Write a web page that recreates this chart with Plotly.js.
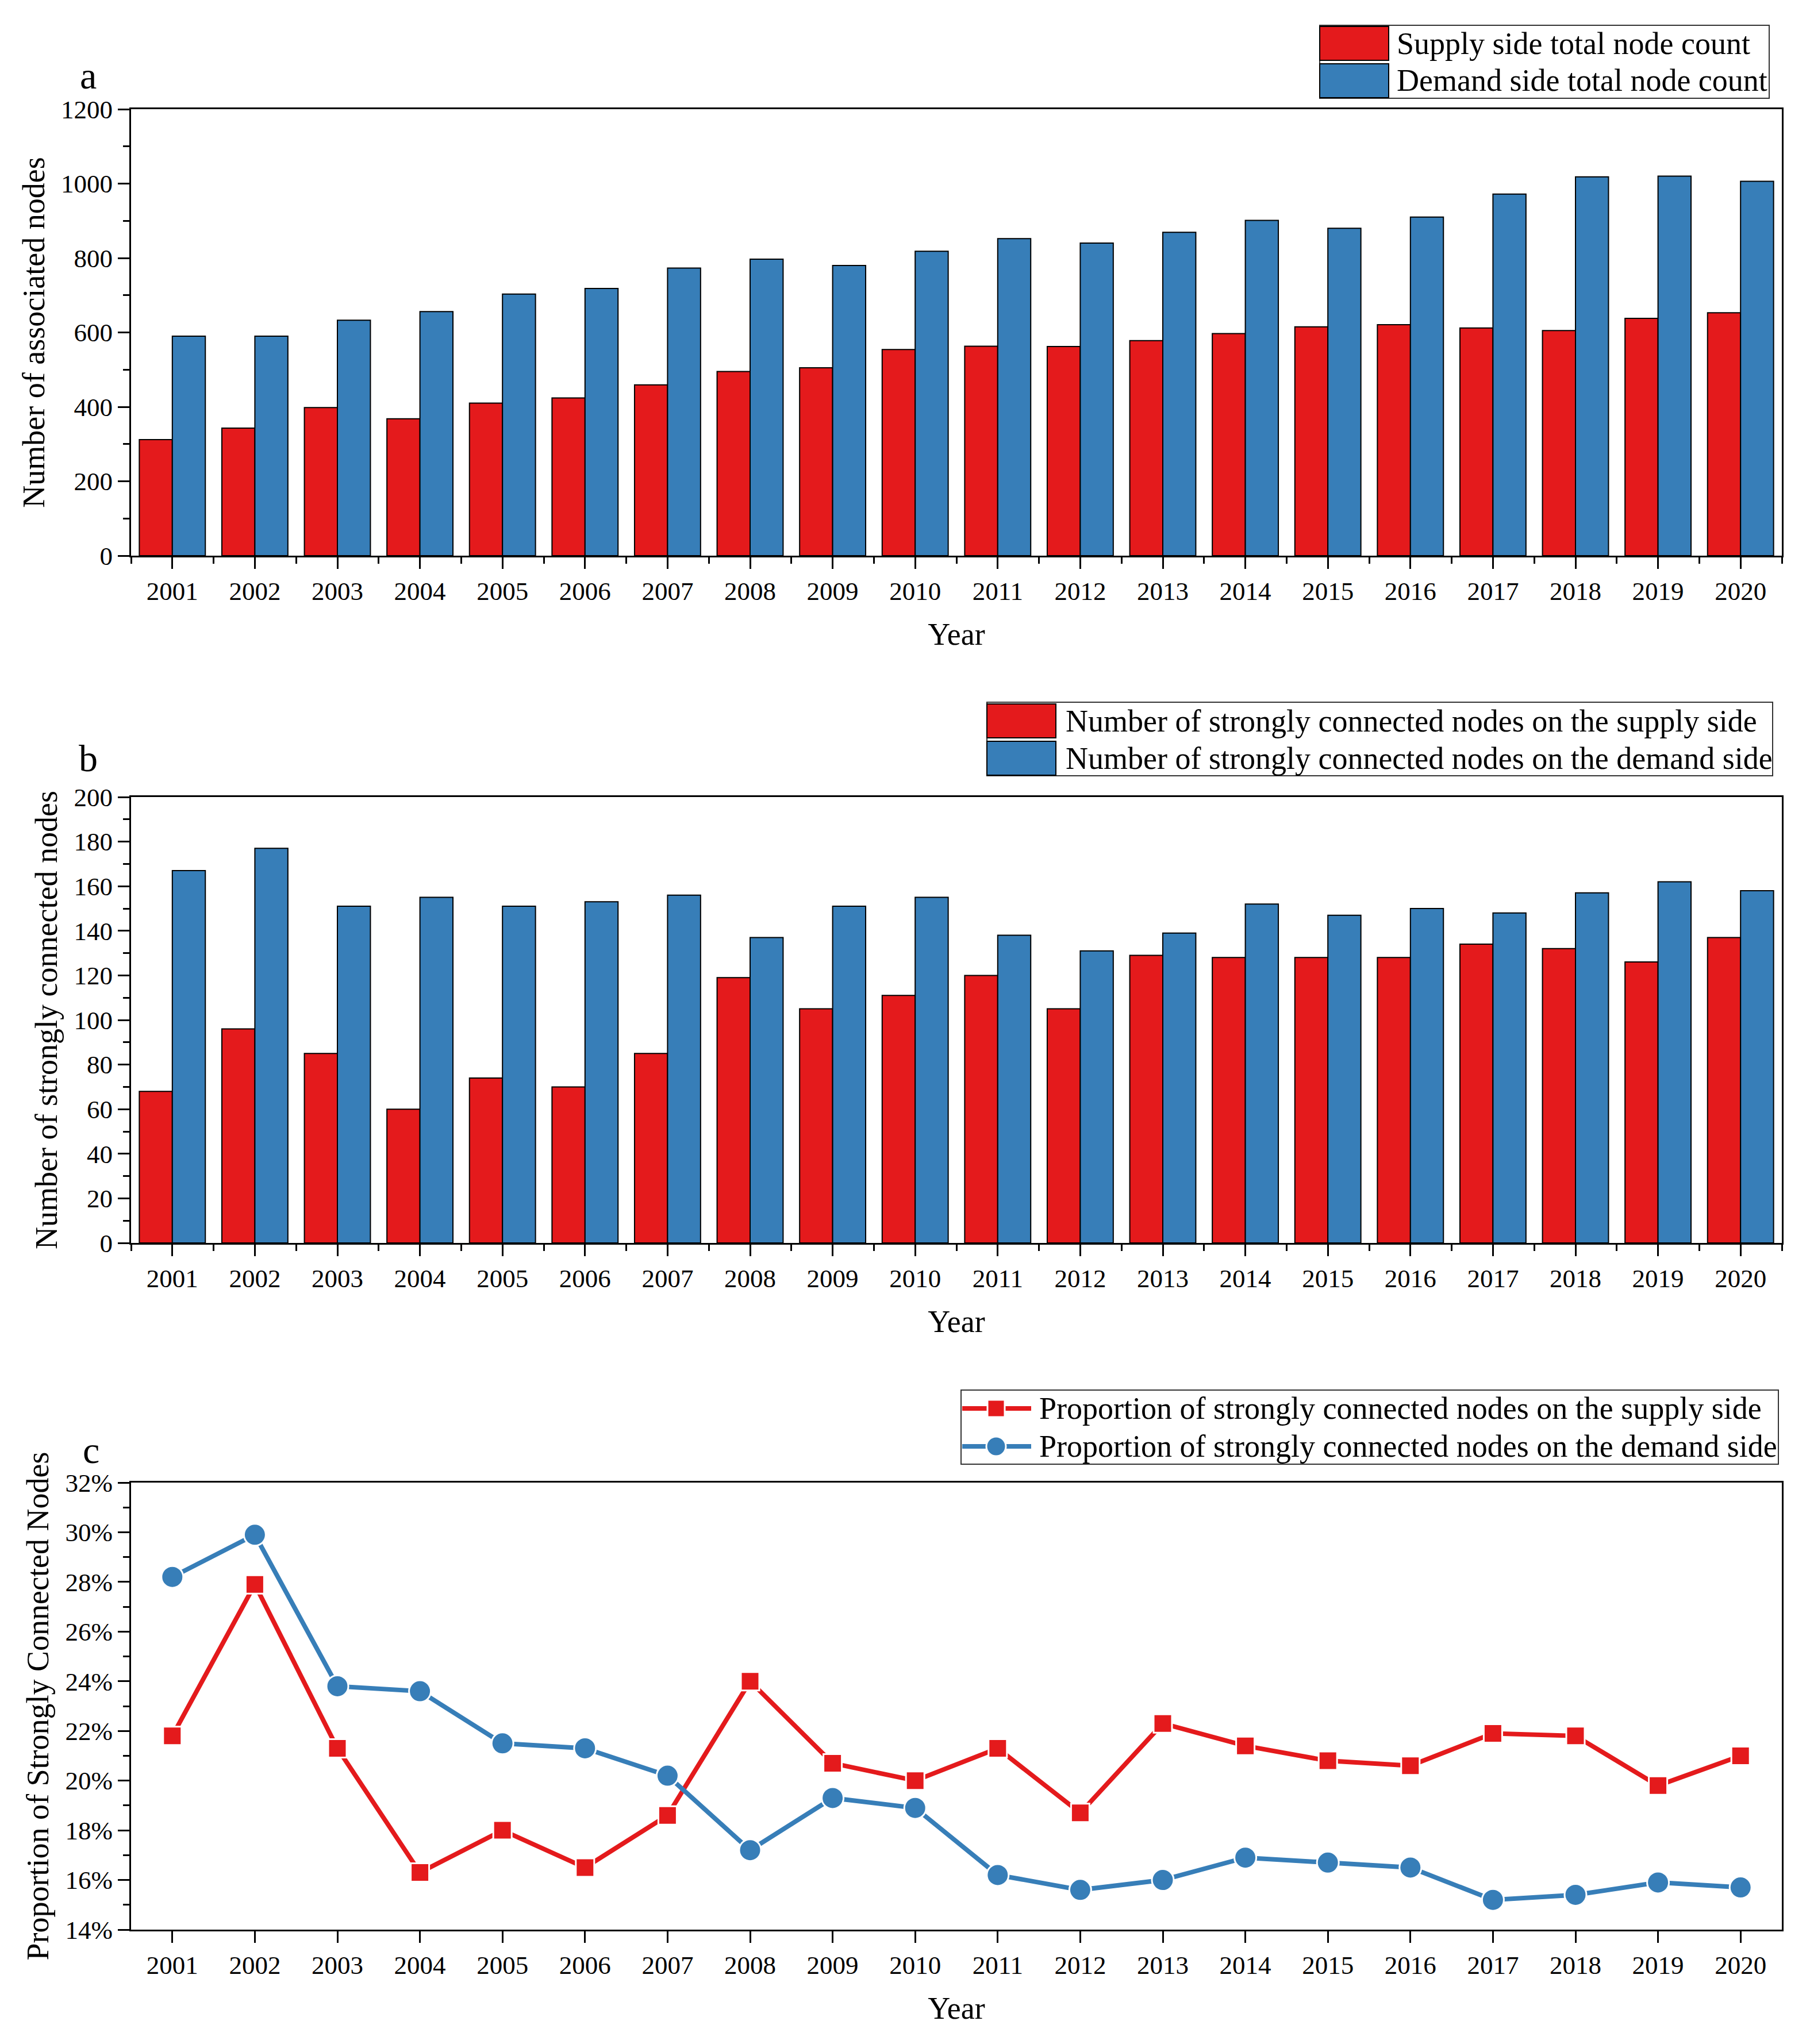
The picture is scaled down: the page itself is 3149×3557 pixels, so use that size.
<!DOCTYPE html>
<html>
<head>
<meta charset="utf-8">
<script src="https://cdn.plot.ly/plotly-3.0.1.min.js"></script>
<style>
  html, body { margin: 0; padding: 0; background: #fff; }
  #chart { width: 3149px; height: 3557px; }
</style>
</head>
<body>
<div id="chart"></div>
<script>
'use strict';

// values
const years = [2001, 2002, 2003, 2004, 2005, 2006, 2007, 2008, 2009, 2010,
               2011, 2012, 2013, 2014, 2015, 2016, 2017, 2018, 2019, 2020];
const supplyTotal = [312, 343, 398, 368, 410, 424, 459, 495, 505, 554,
                     563, 562, 578, 597, 615, 621, 612, 605, 638, 653];
const demandTotal = [590, 590, 633, 656, 703, 718, 773, 797, 780, 818,
                     852, 840, 869, 901, 880, 910, 972, 1018, 1020, 1006];
const supplyStrong = [68, 96, 85, 60, 74, 70, 85, 119, 105, 111,
                      120, 105, 129, 128, 128, 128, 134, 132, 126, 137];
const demandStrong = [167, 177, 151, 155, 151, 153, 156, 137, 151, 155,
                      138, 131, 139, 152, 147, 150, 148, 157, 162, 158];
// percent
const supplyShare = [21.8, 27.9, 21.3, 16.3, 18.0, 16.5, 18.6, 24.0, 20.7, 20.0,
                     21.3, 18.7, 22.3, 21.4, 20.8, 20.6, 21.9, 21.8, 19.8, 21.0];
const demandShare = [28.2, 29.9, 23.8, 23.6, 21.5, 21.3, 20.2, 17.2, 19.3, 18.9,
                     16.2, 15.6, 16.0, 16.9, 16.7, 16.5, 15.2, 15.4, 15.9, 15.7];

const legendA = ['Supply side total node count', 'Demand side total node count'];
const legendB = ['Number of strongly connected nodes on the supply side',
                 'Number of strongly connected nodes on the demand side'];
const legendC = ['Proportion of strongly connected nodes on the supply side',
                 'Proportion of strongly connected nodes on the demand side'];

const RED = '#E41A1C';
const BLUE = '#377EB8';
const FONT = 'Liberation Serif, Times New Roman, serif';
const W = 3149, H = 3557;

// pixel -> paper helpers
const px = x => x / W;
const py = y => 1 - y / H;

function barTrace(y, color, name, xa, ya) {
    return {
        type: 'bar', x: years, y: y, name: name,
        xaxis: xa, yaxis: ya, showlegend: false,
        marker: { color: color, line: { color: '#000', width: 2 } }
    };
}

function lineTrace(y, color, symbol, size, name) {
    return {
        type: 'scatter', mode: 'lines+markers', x: years, y: y, name: name,
        xaxis: 'x3', yaxis: 'y3', showlegend: false,
        line: { color: color, width: 8 },
        marker: { color: color, symbol: symbol, size: size, line: { color: '#fff', width: 3 } }
    };
}

const data = [
    barTrace(supplyTotal, RED, legendA[0], 'x', 'y'),
    barTrace(demandTotal, BLUE, legendA[1], 'x', 'y'),
    barTrace(supplyStrong, RED, legendB[0], 'x2', 'y2'),
    barTrace(demandStrong, BLUE, legendB[1], 'x2', 'y2'),
    lineTrace(supplyShare, RED, 'square', 32, legendC[0]),
    lineTrace(demandShare, BLUE, 'circle', 38, legendC[1])
];

const tickFont = { family: FONT, size: 45, color: '#000' };
const titleFont = { family: FONT, size: 54, color: '#000' };

function xAxis(anchor, withMinor) {
    const ax = {
        domain: [px(228), px(3100)], anchor: anchor,
        range: [2000.5, 2020.5], tickmode: 'linear', tick0: 2001, dtick: 1,
        ticks: 'outside', ticklen: 20, tickwidth: 3, tickcolor: '#000',
        showline: true, linewidth: 3, linecolor: '#000', mirror: true,
        showgrid: false, zeroline: false, tickfont: tickFont,
        title: { text: 'Year', font: titleFont, standoff: 32 }
    };
    if (withMinor) {
        ax.minor = { ticks: 'outside', ticklen: 11, tickwidth: 3, tickcolor: '#000',
                     tick0: 2000.5, dtick: 0.5, showgrid: false };
    }
    return ax;
}

function yAxis(anchor, top, bottom, range, dtick, minorDtick, title, suffix) {
    return {
        domain: [py(bottom), py(top)], anchor: anchor,
        range: range, tickmode: 'linear', tick0: range[0], dtick: dtick,
        ticksuffix: suffix || '',
        ticks: 'outside', ticklen: 20, tickwidth: 3, tickcolor: '#000',
        minor: { ticks: 'outside', ticklen: 11, tickwidth: 3, tickcolor: '#000',
                 dtick: minorDtick, showgrid: false },
        showline: true, linewidth: 3, linecolor: '#000', mirror: true,
        showgrid: false, zeroline: false, tickfont: tickFont,
        title: { text: title, font: titleFont, standoff: 12 }
    };
}

// legend boxes drawn as shapes + text so the swatches keep their size
const shapes = [];
const annotations = [];

function boxLegend(x0, x1, y0, y1, rows, labels, textX) {
    shapes.push({ type: 'rect', xref: 'paper', yref: 'paper',
                  x0: px(x0), x1: px(x1), y0: py(y1), y1: py(y0),
                  line: { color: '#333', width: 2 }, fillcolor: 'rgba(0,0,0,0)' });
    rows.forEach((r, i) => {
        shapes.push({ type: 'rect', xref: 'paper', yref: 'paper',
                      x0: px(x0), x1: px(x0 + 120), y0: py(r[1]), y1: py(r[0]),
                      line: { color: '#000', width: 2 }, fillcolor: i === 0 ? RED : BLUE });
        annotations.push({ xref: 'paper', yref: 'paper', x: px(textX), y: py((r[0] + r[1]) / 2),
                           xanchor: 'left', yanchor: 'middle', showarrow: false,
                           text: labels[i], font: titleFont });
    });
}

boxLegend(2296, 3078, 44, 171, [[46, 105], [111, 170]], legendA, 2428);
boxLegend(1717, 3084, 1222, 1350, [[1225, 1284], [1290, 1349]], legendB, 1852);

// line legend for panel c
shapes.push({ type: 'rect', xref: 'paper', yref: 'paper',
              x0: px(1672), x1: px(3094), y0: py(2548), y1: py(2419),
              line: { color: '#333', width: 2 }, fillcolor: 'rgba(0,0,0,0)' });
[[2451, RED, 'rect', 30], [2517, BLUE, 'circle', 34]].forEach((r, i) => {
    shapes.push({ type: 'line', xref: 'paper', yref: 'paper',
                  x0: px(1674), x1: px(1794), y0: py(r[0]), y1: py(r[0]),
                  line: { color: r[1], width: 8 } });
    const h = r[3] / 2;
    shapes.push({ type: r[2], xref: 'paper', yref: 'paper',
                  x0: px(1733 - h), x1: px(1733 + h), y0: py(r[0] + h), y1: py(r[0] - h),
                  line: { color: '#fff', width: 3 }, fillcolor: r[1] });
    annotations.push({ xref: 'paper', yref: 'paper', x: px(1806), y: py(r[0]),
                       xanchor: 'left', yanchor: 'middle', showarrow: false,
                       text: legendC[i], font: titleFont });
});

// panel letters (anchored at the bottom so they clear the top tick labels)
[['a', 153, 170], ['b', 153, 1358], ['c', 158, 2562]].forEach(l => {
    annotations.push({ xref: 'paper', yref: 'paper', x: px(l[1]), y: py(l[2]),
                       xanchor: 'center', yanchor: 'bottom', showarrow: false,
                       text: l[0], font: { family: FONT, size: 66, color: '#000' } });
});

const layout = {
    width: W, height: H,
    margin: { l: 0, r: 0, t: 0, b: 0 },
    paper_bgcolor: '#fff', plot_bgcolor: '#fff',
    font: { family: FONT, color: '#000' },
    barmode: 'group', bargap: 0.2, bargroupgap: 0,
    showlegend: false,
    xaxis: xAxis('y', true),
    yaxis: yAxis('x', 190, 967, [0, 1200], 200, 100, 'Number of associated nodes'),
    xaxis2: xAxis('y2', true),
    yaxis2: yAxis('x2', 1387, 2163, [0, 200], 20, 10, 'Number of strongly connected nodes'),
    xaxis3: xAxis('y3', false),
    yaxis3: yAxis('x3', 2580, 3358, [14, 32], 2, 1, 'Proportion of Strongly Connected Nodes', '%'),
    shapes: shapes,
    annotations: annotations
};

Plotly.newPlot('chart', data, layout, { staticPlot: true, displayModeBar: false });
</script>
</body>
</html>
